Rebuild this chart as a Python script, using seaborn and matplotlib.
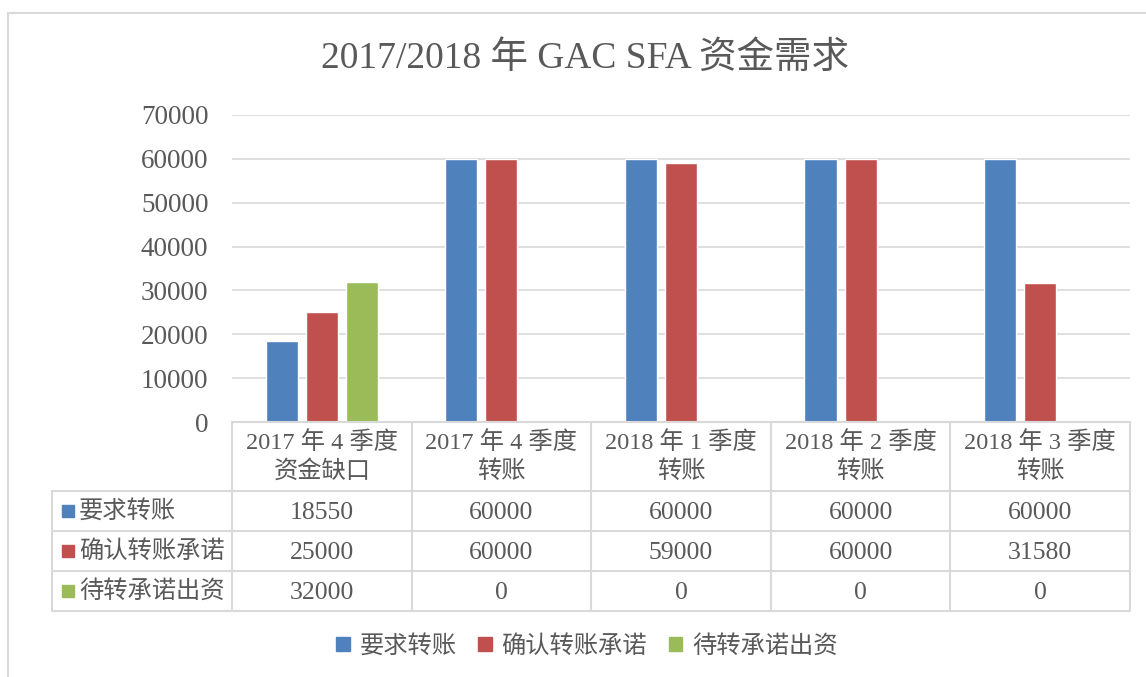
import numpy as np
import pandas as pd
import seaborn as sns
import matplotlib
matplotlib.use("Agg")
import matplotlib.pyplot as plt
from matplotlib.patches import Rectangle, Patch
from matplotlib.lines import Line2D
import matplotlib.transforms as mtransforms

# ---- data ----
categories = ["2017 年 4 季度\n资金缺口", "2017 年 4 季度\n转账", "2018 年 1 季度\n转账",
              "2018 年 2 季度\n转账", "2018 年 3 季度\n转账"]
series_names = ["要求转账", "确认转账承诺", "待转承诺出资"]
req_transfer = [18550, 60000, 60000, 60000, 60000]
confirmed = [25000, 60000, 59000, 60000, 31580]
pending = [32000, 0, 0, 0, 0]
colors = ["#4F81BD", "#C0504D", "#9BBB59"]
title = "2017/2018 年 GAC SFA 资金需求"
yticks = [0, 10000, 20000, 30000, 40000, 50000, 60000, 70000]

series_values = [req_transfer, confirmed, pending]
df = pd.DataFrame({
    "cat": np.tile(categories, 3),
    "series": np.repeat(series_names, len(categories)),
    "value": np.concatenate(series_values),
})

sns.set_theme(style="white")
plt.rcParams["font.family"] = ["Liberation Serif", "Noto Sans CJK SC", "DejaVu Sans"]
TXT = "#595959"
GRID = "#D9D9D9"
FS = 17.5

W, H = 1146, 677
fig = plt.figure(figsize=(W / 100, H / 100), dpi=100)

def fx(px):
    return px / W

def fy(py):
    return 1 - py / H

ax_l, ax_r, ax_t, ax_b = 232, 1130, 115, 422
ax = fig.add_axes([fx(ax_l), fy(ax_b), fx(ax_r - ax_l), (ax_b - ax_t) / H])

sns.barplot(data=df, x="cat", y="value", hue="series", hue_order=series_names,
            palette=colors, width=0.67, gap=0.2, saturation=1, legend=False, ax=ax,
            order=categories)

ax.set_ylim(0, 70000)
ax.set_xlim(-0.5, len(categories) - 0.5)
ax.set_yticks(yticks)
ax.set_yticklabels([str(v) for v in yticks], fontsize=19.5, color=TXT)
ax.tick_params(axis="y", length=0, pad=17)
ax.set_xticks([])
ax.set_xlabel("")
ax.set_ylabel("")
for s in ax.spines.values():
    s.set_visible(False)
ax.yaxis.grid(True, color=GRID, linewidth=1.2)
ax.set_axisbelow(True)

# ---- data table ----
def ay(py):
    return (ax_b - py) / (ax_b - ax_t)

blend = mtransforms.blended_transform_factory(ax.transData, ax.transAxes)
n = len(categories)
rows_y = [422, 491, 531, 571, 611]
lw = 1.5
ax.add_line(Line2D([-0.5, n - 0.5], [ay(422)] * 2, transform=blend, color=GRID, lw=lw, clip_on=False))
for y in rows_y[1:]:
    ax.add_line(Line2D([-1.5, n - 0.5], [ay(y)] * 2, transform=blend, color=GRID, lw=lw, clip_on=False))
for i in range(n + 1):
    xb = i - 0.5
    ax.add_line(Line2D([xb, xb], [ay(422), ay(611)], transform=blend, color=GRID, lw=lw, clip_on=False))
ax.add_line(Line2D([-1.5, -1.5], [ay(491), ay(611)], transform=blend, color=GRID, lw=lw, clip_on=False))

for i, c in enumerate(categories):
    ax.text(i, ay(457), c, transform=blend, ha="center", va="center", fontsize=FS,
            color=TXT, linespacing=1.3, clip_on=False)
for r, (name, vals, col) in enumerate(zip(series_names, series_values, colors)):
    py = (rows_y[r + 1] + rows_y[r + 2]) / 2
    for i, v in enumerate(vals):
        ax.text(i, ay(py + 2), str(v), transform=blend, ha="center", va="center",
                fontsize=FS + 1, color=TXT, clip_on=False)
    fig.add_artist(Rectangle((fx(62), fy(py + 6)), fx(12), 12 / H, color=col))
    fig.text(fx(79), fy(py), name, ha="left", va="center", fontsize=FS, color=TXT)

# ---- title ----
fig.text(fx(585), fy(59), title, ha="center", va="center", fontsize=27, color=TXT)

# ---- legend ----
handles = [Patch(color=c) for c in colors]
fig.legend(handles, series_names, loc="center", bbox_to_anchor=(fx(587), fy(646)), ncol=3,
           frameon=False, fontsize=FS, handlelength=0.55, handleheight=0.55,
           handletextpad=0.4, columnspacing=0.9, labelcolor=TXT)

# ---- outer border ----
fig.add_artist(Rectangle((fx(8), fy(H + 5)), fx(W + 10 - 8), (H + 5 - 13) / H,
                         fill=False, edgecolor=GRID, lw=1.5))

fig.savefig("out.png", dpi=100)
